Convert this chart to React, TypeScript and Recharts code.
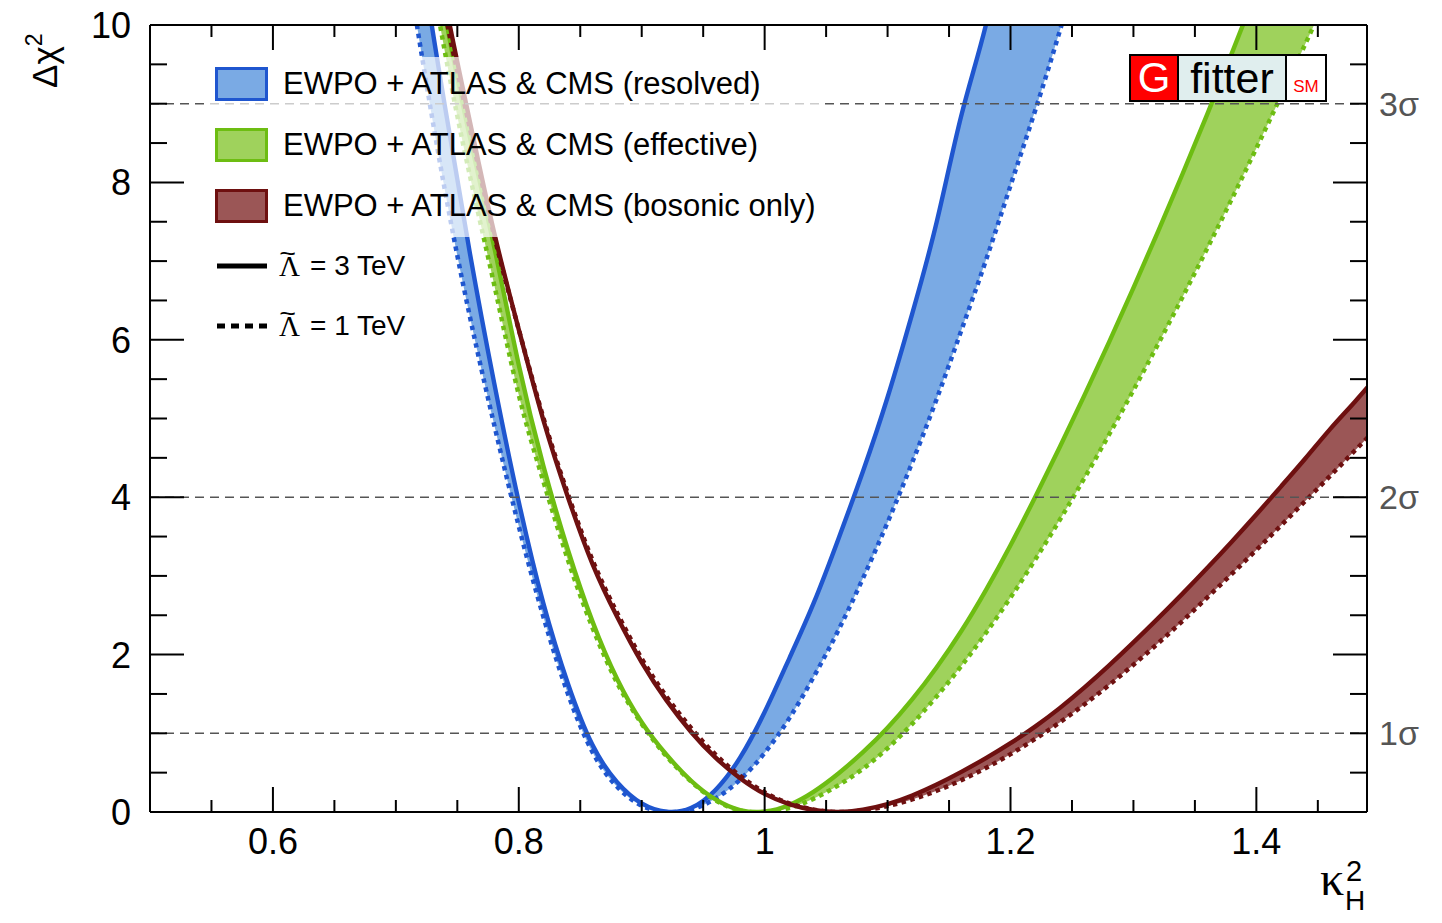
import { Area, ComposedChart, Line, ReferenceLine, XAxis, YAxis } from "recharts";

// kappa_H^2 grids and Delta chi^2 values
const blueK = [0.7, 0.72, 0.74, 0.76, 0.78, 0.8, 0.82, 0.84, 0.86, 0.88, 0.9, 0.92, 0.94, 0.96, 0.98, 1.0, 1.02, 1.04, 1.06, 1.08, 1.1, 1.12, 1.14, 1.16, 1.18, 1.2, 1.22, 1.24, 1.26];
const blueSolid = [13.2, 10.93, 8.96, 7.12, 5.45, 3.94, 2.65, 1.63, 0.85, 0.38, 0.11, 0.004, 0.05, 0.28, 0.69, 1.27, 1.95, 2.66, 3.47, 4.33, 5.27, 6.33, 7.5, 8.85, 10.0, 11.4, 12.8, 14.4, 16.1];
const blueDotted = [11.7, 9.72, 7.89, 6.31, 4.92, 3.63, 2.48, 1.5, 0.76, 0.32, 0.08, 0.0, 0.03, 0.17, 0.41, 0.75, 1.19, 1.72, 2.31, 2.97, 3.68, 4.44, 5.25, 6.12, 7.01, 7.96, 8.91, 9.92, 11.0];

const greenK = [0.72, 0.74, 0.76, 0.78, 0.8, 0.82, 0.84, 0.86, 0.88, 0.9, 0.92, 0.94, 0.96, 0.98, 1.0, 1.02, 1.04, 1.06, 1.08, 1.1, 1.12, 1.14, 1.16, 1.18, 1.2, 1.22, 1.24, 1.26, 1.28, 1.3, 1.32, 1.34, 1.36, 1.38, 1.4, 1.42, 1.44, 1.46];
const greenSolid = [11.94, 10.13, 8.59, 7.18, 5.68, 4.4, 3.33, 2.42, 1.69, 1.14, 0.73, 0.4, 0.16, 0.025, 0.006, 0.09, 0.26, 0.49, 0.76, 1.07, 1.43, 1.84, 2.3, 2.82, 3.39, 4.0, 4.635, 5.29, 5.965, 6.66, 7.375, 8.11, 8.865, 9.64, 10.435, 11.255, 12.1, 12.98];
const greenDotted = [11.45, 9.65, 8.1, 6.7, 5.3, 4.2, 3.2, 2.34, 1.64, 1.12, 0.71, 0.39, 0.15, 0.02, 0.0, 0.05, 0.17, 0.34, 0.55, 0.81, 1.12, 1.47, 1.855, 2.275, 2.725, 3.205, 3.71, 4.24, 4.79, 5.36, 5.945, 6.545, 7.16, 7.79, 8.435, 9.095, 9.765, 10.445];

const redK = [0.72, 0.74, 0.76, 0.78, 0.8, 0.82, 0.84, 0.86, 0.88, 0.9, 0.92, 0.94, 0.96, 0.98, 1.0, 1.02, 1.04, 1.06, 1.08, 1.1, 1.12, 1.14, 1.16, 1.18, 1.2, 1.22, 1.24, 1.26, 1.28, 1.3, 1.32, 1.34, 1.36, 1.38, 1.4, 1.42, 1.44, 1.46, 1.48, 1.5];
const redSolid = [12.0, 10.3, 8.79, 7.36, 6.13, 4.98, 4.0, 3.15, 2.48, 1.9, 1.42, 1.02, 0.69, 0.43, 0.23, 0.1, 0.025, 0.0, 0.03, 0.1, 0.21, 0.35, 0.51, 0.685, 0.875, 1.085, 1.32, 1.58, 1.86, 2.155, 2.46, 2.775, 3.1, 3.435, 3.78, 4.135, 4.495, 4.865, 5.21, 5.57];
const redDotted = [11.8, 10.15, 8.7, 7.32, 6.13, 5.01, 4.04, 3.2, 2.53, 1.95, 1.47, 1.07, 0.73, 0.46, 0.25, 0.11, 0.03, 0.0, 0.02, 0.075, 0.16, 0.27, 0.405, 0.56, 0.735, 0.928, 1.138, 1.366, 1.611, 1.871, 2.143, 2.428, 2.725, 3.025, 3.33, 3.64, 3.955, 4.27, 4.59, 4.91];

const xTicks = [0.55, 0.6, 0.65, 0.7, 0.75, 0.8, 0.85, 0.9, 0.95, 1, 1.05, 1.1, 1.15, 1.2, 1.25, 1.3, 1.35, 1.4, 1.45];
const xLabelTicks = [0.6, 0.8, 1, 1.2, 1.4];
const yTicks = [0, 0.5, 1, 1.5, 2, 2.5, 3, 3.5, 4, 4.5, 5, 5.5, 6, 6.5, 7, 7.5, 8, 8.5, 9, 9.5, 10];
const yLabelTicks = [0, 2, 4, 6, 8, 10];
const sigmaLevels = [1, 4, 9];
const sigmaLabels = ["1σ", "2σ", "3σ"];

const legendBands = [
  "EWPO + ATLAS & CMS (resolved)",
  "EWPO + ATLAS & CMS (effective)",
  "EWPO + ATLAS & CMS (bosonic only)",
];
const legendScales = ["3 TeV", "1 TeV"];

const BLUE_LINE = "#1f56cf";
const BLUE_FILL = "#7aaae4";
const GREEN_LINE = "#6dbd12";
const GREEN_FILL = "#9fd25c";
const RED_LINE = "#6e1010";
const RED_FILL = "#9b5656";

const SANS = '"Liberation Sans", Arial, Helvetica, sans-serif';
const SERIF = '"Liberation Serif", "DejaVu Serif", serif';

const rows = (ks: number[], solid: number[], dotted: number[]) =>
  ks.map((k, i) => ({ k, solid: solid[i], dotted: dotted[i], band: [dotted[i], solid[i]] }));

const blueRows = rows(blueK, blueSolid, blueDotted);
const greenRows = rows(greenK, greenSolid, greenDotted);
const redRows = rows(redK, redSolid, redDotted);

const isIn = (list: number[], v: number) => list.some((m) => Math.abs(m - v) < 1e-6);

function BottomTick({ x, y, payload }: any) {
  const v = payload.value as number;
  const major = isIn(xLabelTicks, v);
  return (
    <g>
      <line x1={x} x2={x} y1={y} y2={y - (major ? 25 : 12)} stroke="#000" strokeWidth={2} />
      {major && (
        <text x={x} y={y + 42} textAnchor="middle" fontSize={36} fontFamily={SANS} fill="#000">
          {String(v)}
        </text>
      )}
    </g>
  );
}

function TopTick({ x, y, payload }: any) {
  const major = isIn(xLabelTicks, payload.value);
  return <line x1={x} x2={x} y1={y} y2={y + (major ? 25 : 12)} stroke="#000" strokeWidth={2} />;
}

function LeftTick({ x, y, payload }: any) {
  const v = payload.value as number;
  const major = isIn(yLabelTicks, v);
  return (
    <g>
      <line x1={x} x2={x + (major ? 34 : 17)} y1={y} y2={y} stroke="#000" strokeWidth={2} />
      {major && (
        <text x={x - 19} y={y + 13} textAnchor="end" fontSize={36} fontFamily={SANS} fill="#000">
          {String(v)}
        </text>
      )}
    </g>
  );
}

function RightTick({ x, y, payload }: any) {
  const v = payload.value as number;
  const major = isIn(yLabelTicks, v);
  const s = sigmaLevels.findIndex((l) => Math.abs(l - v) < 1e-6);
  return (
    <g>
      <line x1={x} x2={x - (major ? 34 : 17)} y1={y} y2={y} stroke="#000" strokeWidth={2} />
      {s >= 0 && (
        <text x={x + 12} y={y + 12} fontSize={34} fontFamily={SANS} fill="#555">
          {sigmaLabels[s]}
        </text>
      )}
    </g>
  );
}

const bandColors = [
  [BLUE_LINE, BLUE_FILL],
  [GREEN_LINE, GREEN_FILL],
  [RED_LINE, RED_FILL],
];

export default function App() {
  const series = [
    { key: "blue", data: blueRows, line: BLUE_LINE, fill: BLUE_FILL },
    { key: "green", data: greenRows, line: GREEN_LINE, fill: GREEN_FILL },
    { key: "red", data: redRows, line: RED_LINE, fill: RED_FILL },
  ];
  return (
    <div style={{ position: "absolute", left: 0, top: 0, width: 1442, height: 923, background: "#fff", fontFamily: SANS }}>
      <ComposedChart width={1442} height={923} margin={{ top: 0, right: 0, bottom: 0, left: 0 }}>
        {series.flatMap((s) => [
          <Area
            key={`${s.key}-band`}
            data={s.data}
            dataKey="band"
            type="natural"
            fill={s.fill}
            fillOpacity={1}
            stroke="none"
            isAnimationActive={false}
            activeDot={false}
          />,
          <Line
            key={`${s.key}-dotted`}
            data={s.data}
            dataKey="dotted"
            type="natural"
            stroke={s.line}
            strokeWidth={4.5}
            strokeDasharray="4.5 4.5"
            dot={false}
            activeDot={false}
            isAnimationActive={false}
          />,
          <Line
            key={`${s.key}-solid`}
            data={s.data}
            dataKey="solid"
            type="natural"
            stroke={s.line}
            strokeWidth={4.4}
            dot={false}
            activeDot={false}
            isAnimationActive={false}
          />,
        ])}
        {sigmaLevels.map((l) => (
          <ReferenceLine key={l} y={l} stroke="#555" strokeWidth={1.5} strokeDasharray="9 6" />
        ))}
        <XAxis
          dataKey="k"
          type="number"
          domain={[0.5, 1.49]}
          allowDataOverflow
          ticks={xTicks}
          interval={0}
          tickSize={0}
          tickMargin={0}
          tickLine={false}
          axisLine={{ stroke: "#000", strokeWidth: 2 }}
          tick={BottomTick}
          height={111}
        />
        <XAxis
          xAxisId="top"
          orientation="top"
          dataKey="k"
          type="number"
          domain={[0.5, 1.49]}
          allowDataOverflow
          ticks={xTicks}
          interval={0}
          tickSize={0}
          tickMargin={0}
          tickLine={false}
          axisLine={{ stroke: "#000", strokeWidth: 2 }}
          tick={TopTick}
          height={25}
        />
        <YAxis
          type="number"
          domain={[0, 10]}
          allowDataOverflow
          ticks={yTicks}
          interval={0}
          tickSize={0}
          tickMargin={0}
          tickLine={false}
          axisLine={{ stroke: "#000", strokeWidth: 2 }}
          tick={LeftTick}
          width={150}
          label={{
            content: () => (
              <text transform="translate(57,88) rotate(-90)" fontSize={35} fontFamily={SANS} fill="#000">
                Δχ
                <tspan dy={-15} fontSize={23}>2</tspan>
              </text>
            ),
          }}
        />
        <YAxis
          yAxisId="right"
          orientation="right"
          type="number"
          domain={[0, 10]}
          allowDataOverflow
          ticks={yTicks}
          interval={0}
          tickSize={0}
          tickMargin={0}
          tickLine={false}
          axisLine={{ stroke: "#000", strokeWidth: 2 }}
          tick={RightTick}
          width={75}
          label={{
            content: () => (
              <text x={1320} y={895} fontSize={48} fontFamily={SERIF} fill="#000">
                κ
                <tspan x={1346} y={881} fontSize={29} fontFamily={SANS}>2</tspan>
                <tspan x={1345} y={910} fontSize={28} fontFamily={SANS}>H</tspan>
              </text>
            ),
          }}
        />
      </ComposedChart>

      {/* translucent legend backdrop */}
      <div style={{ position: "absolute", left: 207, top: 57, width: 616, height: 180, background: "rgba(255,255,255,0.7)" }} />
      {legendBands.map((t, i) => (
        <div key={t} style={{ position: "absolute", left: 215, top: 67 + i * 61, height: 34, display: "flex", alignItems: "center" }}>
          <div
            style={{
              width: 53,
              height: 34,
              boxSizing: "border-box",
              border: `3px solid ${bandColors[i][0]}`,
              background: bandColors[i][1],
            }}
          />
          <span style={{ marginLeft: 15, fontSize: 31, color: "#000", whiteSpace: "nowrap" }}>{t}</span>
        </div>
      ))}
      {legendScales.map((t, i) => (
        <div key={t} style={{ position: "absolute", left: 217, top: 246 + i * 60, height: 40, display: "flex", alignItems: "center" }}>
          <svg width={50} height={6}>
            <line x1={0} x2={50} y1={3} y2={3} stroke="#000" strokeWidth={5} strokeDasharray={i === 0 ? undefined : "8 6"} />
          </svg>
          <span style={{ position: "relative", marginLeft: 12, fontSize: 29, fontFamily: SERIF, color: "#000", lineHeight: "40px" }}>
            Λ
            <span
              style={{
                position: "absolute",
                left: 1,
                top: -13,
                fontSize: 26,
                fontFamily: SANS,
                transform: "scaleX(1.1)",
              }}
            >
              ~
            </span>
          </span>
          <span style={{ marginLeft: 10, fontSize: 28, color: "#000", whiteSpace: "nowrap" }}>= {t}</span>
        </div>
      ))}

      {/* Gfitter logo */}
      <div
        style={{
          position: "absolute",
          left: 1129,
          top: 54,
          width: 198,
          height: 48,
          boxSizing: "border-box",
          border: "2px solid #000",
          display: "flex",
        }}
      >
        <div style={{ width: 46, background: "#ff0000", color: "#fff", fontSize: 42, lineHeight: "44px", textAlign: "center", borderRight: "2px solid #000" }}>
          G
        </div>
        <div style={{ width: 106, background: "#e0eeee", color: "#000", fontSize: 43, lineHeight: "44px", textAlign: "center", borderRight: "2px solid #000" }}>
          fitter
        </div>
        <div style={{ flex: 1, background: "#fff", color: "#ff0000", fontSize: 17, display: "flex", alignItems: "flex-end", justifyContent: "center", paddingBottom: 3 }}>
          SM
        </div>
      </div>
    </div>
  );
}
